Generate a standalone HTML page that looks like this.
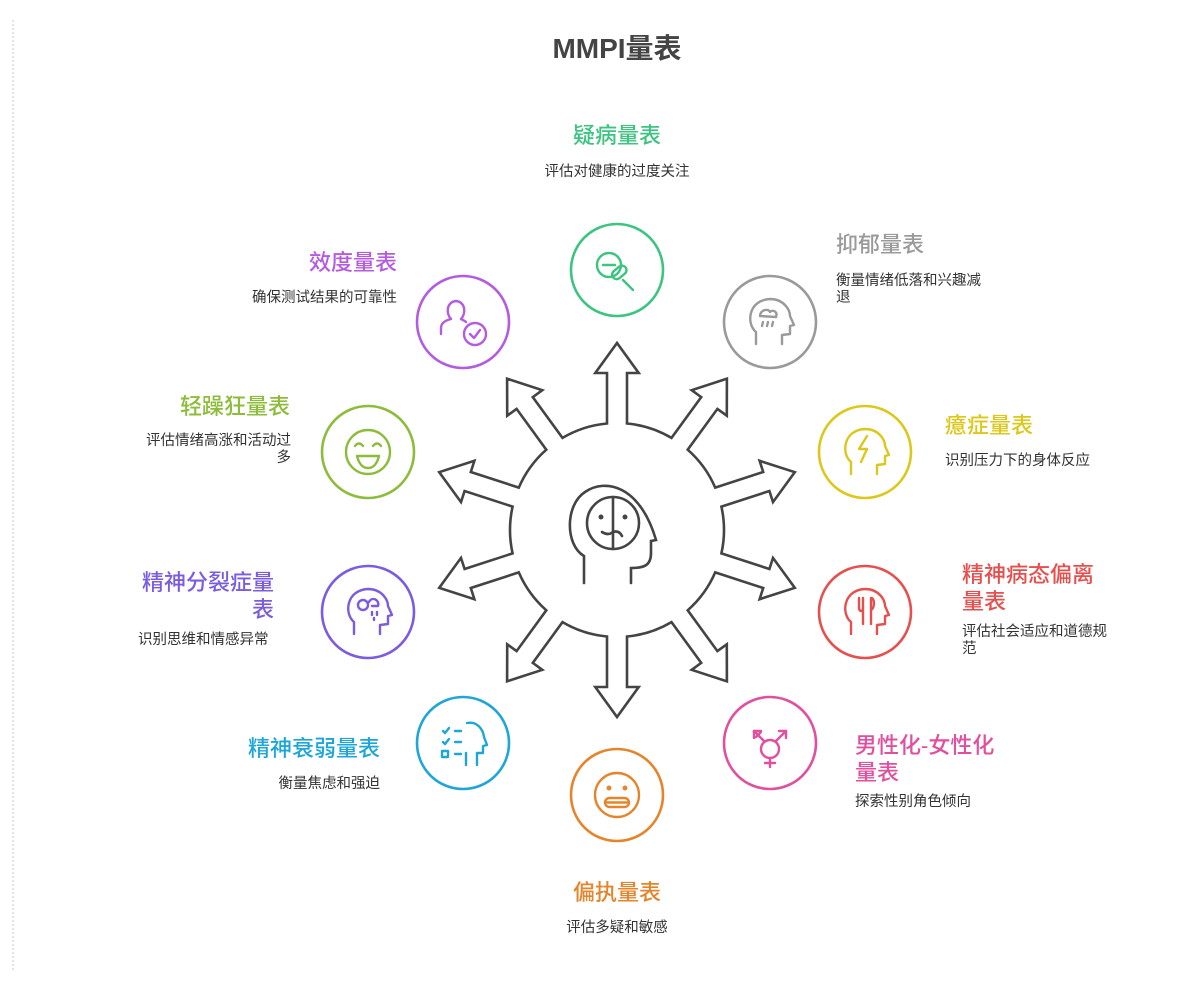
<!DOCTYPE html>
<html><head><meta charset="utf-8">
<style>
html,body{margin:0;padding:0;background:#fff;}
body{width:1202px;height:982px;position:relative;overflow:hidden;font-family:"Liberation Sans","Noto Sans CJK SC",sans-serif;}
.t{position:absolute;font-size:22px;font-weight:500;line-height:27px;}
.d{position:absolute;font-size:14.5px;color:#333;line-height:17px;}
.r{text-align:right}
.c{text-align:center}
svg{position:absolute;left:0;top:0}
</style></head><body>
<div style="position:absolute;left:12px;top:20px;height:950px;border-left:2px dotted #e4e4e4"></div>
<div style="position:absolute;left:0;top:27px;width:1234px;text-align:center;font-size:28px;font-weight:bold;color:#444">MMPI量表</div>
<svg id="s" width="1202" height="982" viewBox="0 0 1202 982"></svg>

<div class="t c" style="left:517px;top:122px;width:200px;color:#3cc480">疑病量表</div>
<div class="d c" style="left:517px;top:164px;width:200px">评估对健康的过度关注</div>

<div class="t" style="left:836px;top:231px;color:#9a9a9a">抑郁量表</div>
<div class="d" style="left:836px;top:273px;width:155px">衡量情绪低落和兴趣减退</div>

<div class="t" style="left:945px;top:412px;color:#dcc81c">癔症量表</div>
<div class="d" style="left:945px;top:453px;width:170px">识别压力下的身体反应</div>

<div class="t" style="left:962px;top:561px;width:140px;color:#e5504f">精神病态偏离量表</div>
<div class="d" style="left:962px;top:624px;width:152px">评估社会适应和道德规范</div>

<div class="t" style="left:855px;top:732px;width:148px;color:#e0509e">男性化-女性化量表</div>
<div class="d" style="left:855px;top:794px;width:160px">探索性别角色倾向</div>

<div class="t c" style="left:517px;top:879px;width:200px;color:#e4852c">偏执量表</div>
<div class="d c" style="left:517px;top:920px;width:200px">评估多疑和敏感</div>

<div class="t r" style="left:180px;top:735px;width:200px;color:#1ea6d8">精神衰弱量表</div>
<div class="d r" style="left:180px;top:776px;width:200px">衡量焦虑和强迫</div>

<div class="t r" style="left:132px;top:569px;width:142px;color:#7b5ce0">精神分裂症量表</div>
<div class="d" style="left:138px;top:632px;width:160px">识别思维和情感异常</div>

<div class="t r" style="left:90px;top:393px;width:200px;color:#8dbc3a">轻躁狂量表</div>
<div class="d r" style="left:138px;top:433px;width:153px">评估情绪高涨和活动过多</div>

<div class="t r" style="left:197px;top:249px;width:200px;color:#b45ce0">效度量表</div>
<div class="d r" style="left:197px;top:290px;width:200px">确保测试结果的可靠性</div>

<script>
(function(){
var s=document.getElementById('s');
var cx=617,cy=530,R=107,w=10,H=21.7,L=187,h=30;
var N=10,d="";
function pt(a,dist,off){var dx=Math.sin(a),dy=-Math.cos(a),px=Math.cos(a),py=Math.sin(a);return [(cx+dx*dist+px*off).toFixed(1),(cy+dy*dist+py*off).toFixed(1)];}
var s0=Math.sqrt(R*R-w*w);
for(var i=0;i<N;i++){
 var a=i*Math.PI*2/N;
 var p=[pt(a,s0,-w),pt(a,L-h,-w),pt(a,L-h,-H),pt(a,L,0),pt(a,L-h,H),pt(a,L-h,w),pt(a,s0,w)];
 d+=(i==0?"M":"L")+p[0].join(",");
 for(var k=1;k<p.length;k++)d+="L"+p[k].join(",");
 var nx=pt((i+1)*Math.PI*2/N,s0,-w);
 d+="A"+R+","+R+" 0 0 1 "+nx.join(",");
}
d+="Z";
var out='<path d="'+d+'" fill="#fff" stroke="#444" stroke-width="2.6" stroke-linejoin="miter"/>';
out+='<g fill="none" stroke="#444" stroke-width="2.6" stroke-linecap="round"><path d="M584,583 L584,556 C565,545 565,505 585,492 C605,478 640,485 656,540 L651,541 L651,553 C651,565 645,568 631,568 L631,583"/><circle cx="613" cy="523" r="26"/><line x1="613" y1="497" x2="613" y2="549"/><circle cx="601" cy="517" r="1.2" fill="#444"/><circle cx="625" cy="517" r="1.2" fill="#444"/><path d="M602,532 Q608,536 613,532 Q619,530 622,536"/></g>';
var nodes=[
 [0,"#3cc480",617,270],[1,"#9a9a9a",770,322],[2,"#dcc81c",865,452],[3,"#e5504f",865,612],[4,"#e0509e",770,743],[5,"#e4852c",617,795],[6,"#1ea6d8",463,743],[7,"#7b5ce0",368,612],[8,"#8dbc3a",368,452],[9,"#b45ce0",463,322]];
nodes.forEach(function(n){
 var x=n[2],y=n[3],c=n[1];
 out+='<circle cx="'+x+'" cy="'+y+'" r="46" fill="#fff" stroke="'+c+'" stroke-width="2.6"/>';
 out+='<g transform="translate('+x+','+y+')" fill="none" stroke="'+c+'" stroke-width="2.4" stroke-linecap="round" stroke-linejoin="round">';
 var ic;
 switch(n[0]){
 case 0: ic='<circle cx="-8" cy="-5" r="12"/><line x1="-14" y1="-5" x2="-2" y2="-5"/><rect x="-6" y="-2" width="16" height="9" rx="4.5" transform="rotate(-40 2 2)"/><line x1="6" y1="10" x2="16" y2="20"/>';break;
 case 5: ic='<circle r="22"/><circle cx="-8" cy="-7" r="1.3"/><circle cx="8" cy="-7" r="1.3"/><rect x="-12" y="3" width="24" height="9" rx="4.5"/><line x1="-10" y1="7.5" x2="10" y2="7.5"/>';break;
 case 8: ic='<circle r="22"/><path d="M-13,-6 Q-9,-11 -5,-6 M5,-6 Q9,-11 13,-6"/><path d="M-11,4 Q0,4 11,4 Q8,16 0,16 Q-8,16 -11,4Z"/>';break;
 case 4: ic='<circle cy="6" r="9"/><line x1="0" y1="15" x2="0" y2="24"/><line x1="-5" y1="20" x2="5" y2="20"/><line x1="-6" y1="-2" x2="-16" y2="-12"/><path d="M-16,-5 L-16,-12 L-9,-12"/><line x1="6" y1="-2" x2="16" y2="-12"/><path d="M16,-5 L16,-12 L9,-12"/><line x1="-14" y1="-6" x2="-9" y2="-11"/>';break;
 case 6: ic='<path d="M-20,-12 l2,2 l4,-5 M-20,-1 l2,2 l4,-5"/><rect x="-21" y="8" width="6" height="6"/><line x1="-8" y1="-12" x2="-2" y2="-12"/><line x1="-8" y1="-1" x2="-2" y2="-1"/><line x1="-8" y1="11" x2="-2" y2="11"/><path d="M3,22 L3,10 M4,-20 C14,-22 20,-14 21,-6 L24,2 L20,3 L20,10 L14,10 L14,22"/>';break;
 case 9: ic='<path d="M-22,12 L-22,6 C-22,0 -16,-2 -12,-3 C-17,-8 -17,-20 -7,-21 C3,-20 3,-8 -2,-3 C0,-2 2,-1 3,0"/><circle cx="12" cy="12" r="11"/><path d="M7,12 L11,16 L17,8"/>';break;
 default: ic='<path d="M-14,22 L-14,10 C-24,2 -22,-22 0,-23 C14,-23 20,-12 20,-6 L24,3 L20,4 L20,12 L12,13 L12,22"/>';
  if(n[0]==1) ic+='<path d="M-10,-6 C-10,-12 -2,-14 0,-10 C3,-13 8,-10 6,-5 Z"/><line x1="-7" y1="0" x2="-8" y2="4"/><line x1="-2" y1="0" x2="-3" y2="4"/><line x1="3" y1="0" x2="2" y2="4"/>';
  if(n[0]==2) ic+='<path d="M2,-16 L-6,-3 L2,-3 L-4,10"/>';
  if(n[0]==3) ic+='<path d="M-6,-14 L-6,-4 C-6,0 -2,0 -2,-4 M-2,-14 L-2,12 M6,-14 L6,12 M6,-14 C10,-14 10,-4 6,-2"/>';
  if(n[0]==7) ic+='<circle cx="-5" cy="-7" r="5"/><path d="M1,-10 C4,-16 12,-12 10,-6 L4,-6"/><line x1="4" y1="0" x2="4" y2="3"/><line x1="9" y1="0" x2="9" y2="3"/><line x1="6" y1="6" x2="6" y2="8"/>';
 }
 out+=ic+'</g>';
});
s.innerHTML=out;
})();
</script>
</body></html>
